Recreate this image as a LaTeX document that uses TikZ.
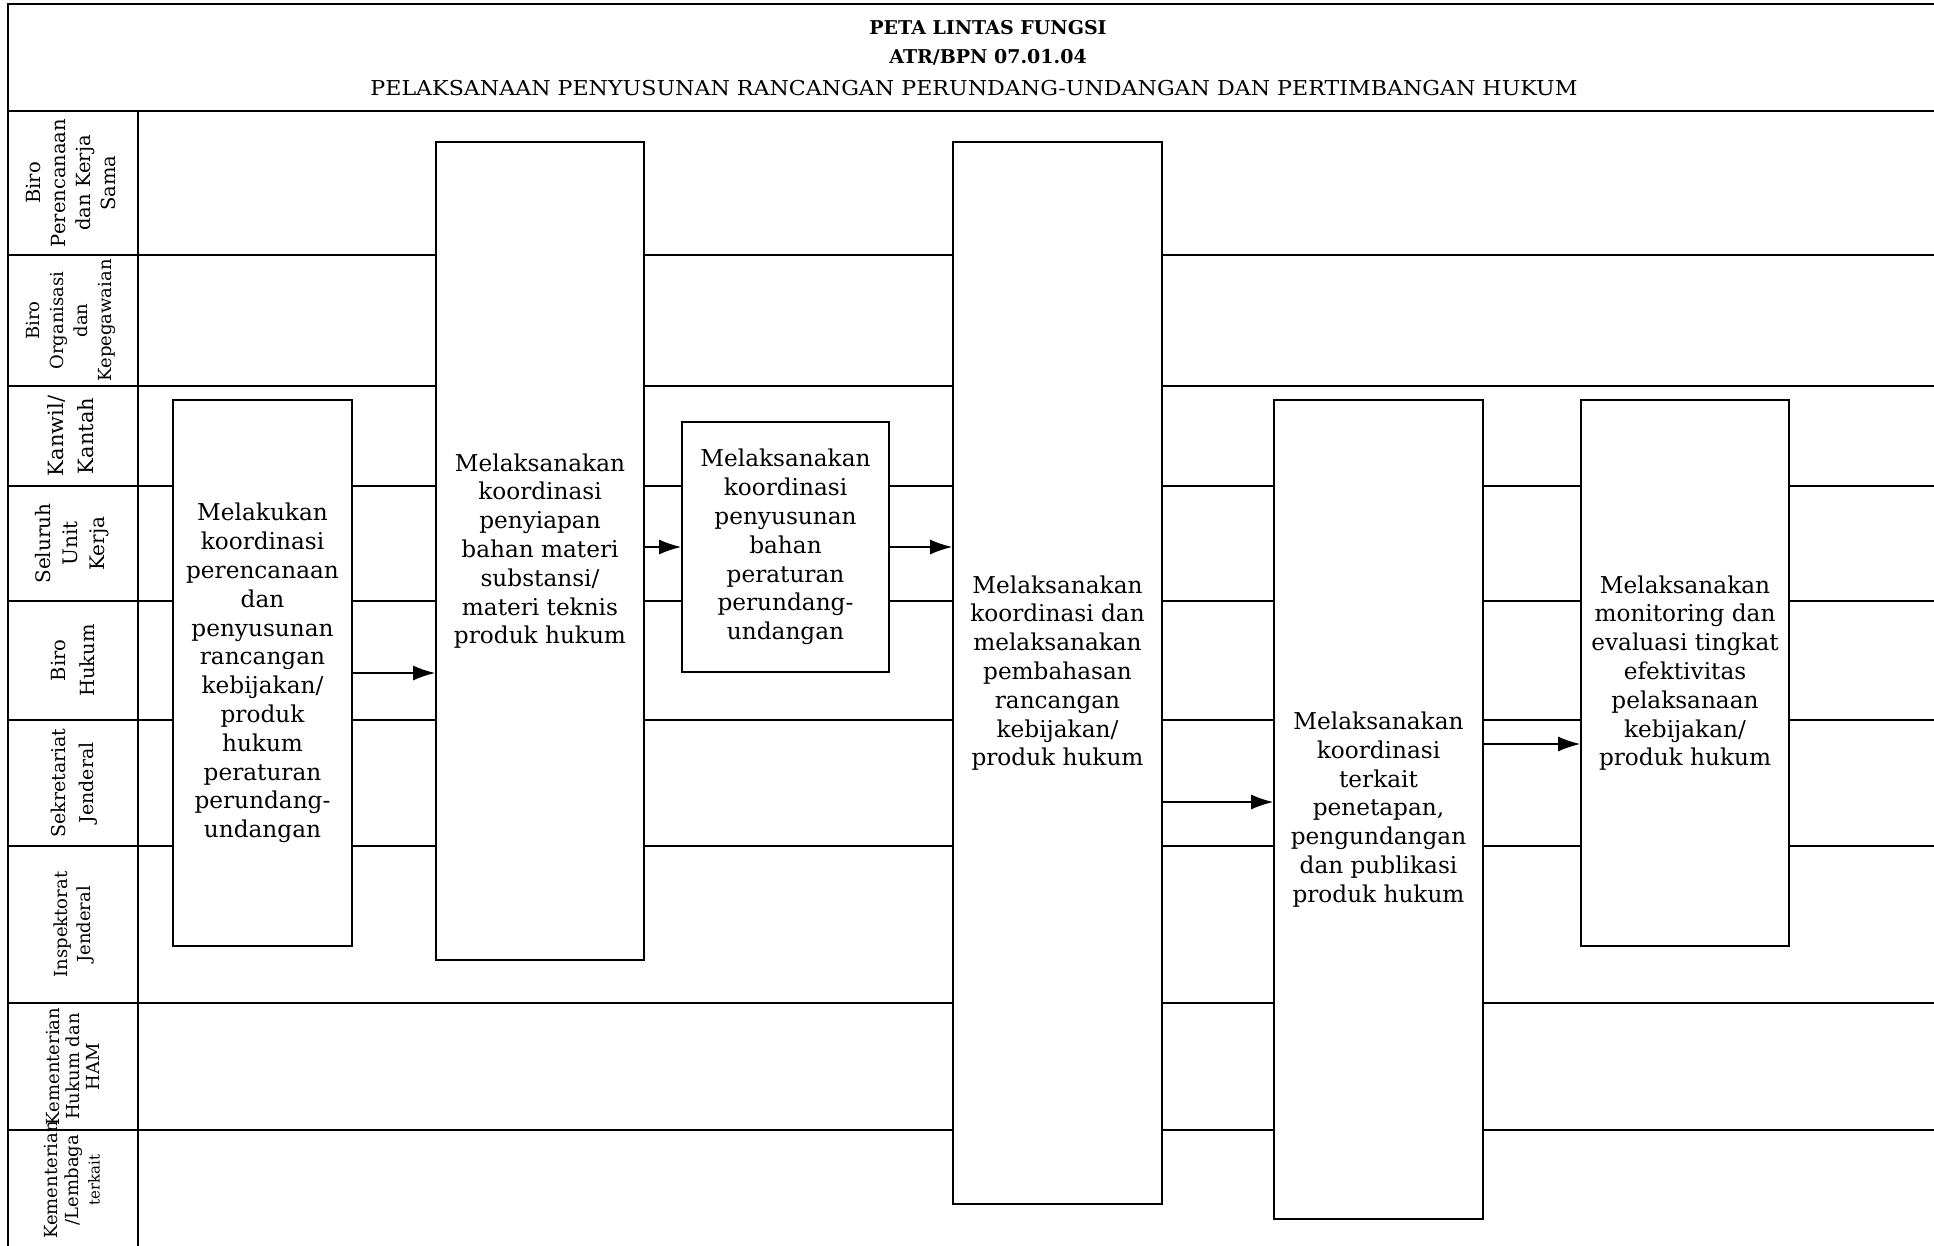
\documentclass[tikz,border=0pt]{standalone}
\usepackage{fontspec}
\setmainfont{DejaVu Serif}
\newfontfamily\subtitlefont[FakeStretch=1.08]{DejaVu Serif}
\usetikzlibrary{arrows.meta}
\begin{document}
\begin{tikzpicture}[x=1pt,y=-1pt,
  rule/.style={line width=1.6pt},
  stepbox/.style={draw, line width=1.6pt, fill=white, inner sep=0pt, align=center,
    font=\fontsize{23.2}{28.8}\selectfont},
  lanelabel/.style={rotate=90, align=center, inner sep=0pt},
  flow/.style={line width=1.6pt, -{Latex[length=22pt,width=15pt]}}]
\useasboundingbox (0,0) rectangle (1934,1246);
\clip (0,0) rectangle (1934,1246);

% frame, title band and lane grid
\draw[rule] (8,1250) -- (8,4) -- (1940,4);
\draw[rule] (8,111) -- (1940,111);
\draw[rule] (138,111) -- (138,1250);
\foreach \y in {255,386,486,601,720,846,1003,1130}
  \draw[rule] (8,\y) -- (1940,\y);

% title
\node[font=\bfseries\fontsize{19}{21}\selectfont] (t1) at (988,28) {PETA LINTAS FUNGSI};
\node[font=\bfseries\fontsize{19}{21}\selectfont] (t2) at (988,57) {ATR/BPN 07.01.04};
\node[font=\subtitlefont\fontsize{20.5}{23}\selectfont] (t3) at (974,88)
  {PELAKSANAAN PENYUSUNAN RANCANGAN PERUNDANG-UNDANGAN DAN PERTIMBANGAN HUKUM};

% lane labels
\node[lanelabel, font=\fontsize{19.5}{25}\selectfont] (l1) at (71,183) {Biro\\Perencanaan\\dan Kerja\\Sama};
\node[lanelabel, font=\fontsize{18}{24}\selectfont] (l2) at (71,320.5) {Biro\\Organisasi\\dan\\Kepegawaian};
\node[lanelabel, font=\fontsize{21}{30}\selectfont] (l3) at (71,436) {Kanwil/\\Kantah};
\node[lanelabel, font=\fontsize{20}{27}\selectfont] (l4) at (72,543.5) {Seluruh\\Unit\\Kerja};
\node[lanelabel, font=\fontsize{19.5}{29}\selectfont] (l5) at (73,660.5) {Biro\\Hukum};
\node[lanelabel, font=\fontsize{19}{28}\selectfont] (l6) at (74,783) {Sekretariat\\Jenderal};
\node[lanelabel, font=\fontsize{18}{23}\selectfont] (l7) at (74,924.5) {Inspektorat\\Jenderal};
\node[lanelabel, font=\fontsize{18}{20}\selectfont] (l8) at (73,1066.5) {Kementerian\\Hukum dan\\HAM};
\node[lanelabel, font=\fontsize{18}{21}\selectfont] (l9) at (72,1180)
  {Kementerian\\/Lembaga\\{\fontsize{15}{21}\selectfont terkait}};

% process steps
\node[stepbox, minimum width=179, minimum height=546] (b1) at (262.5,673)
  {Melakukan\\koordinasi\\perencanaan\\dan\\penyusunan\\rancangan\\kebijakan/\\produk\\hukum\\peraturan\\perundang-\\undangan};
\node[stepbox, minimum width=208, minimum height=818] (b2) at (540,551)
  {Melaksanakan\\koordinasi\\penyiapan\\bahan materi\\substansi/\\materi teknis\\produk hukum};
\node[stepbox, minimum width=207, minimum height=250] (b3) at (785.5,547)
  {Melaksanakan\\koordinasi\\penyusunan\\bahan\\peraturan\\perundang-\\undangan};
\node[stepbox, minimum width=209, minimum height=1062] (b4) at (1057.5,673)
  {Melaksanakan\\koordinasi dan\\melaksanakan\\pembahasan\\rancangan\\kebijakan/\\produk hukum};
\node[stepbox, minimum width=209, minimum height=819] (b5) at (1378.5,809.5)
  {Melaksanakan\\koordinasi\\terkait\\penetapan,\\pengundangan\\dan publikasi\\produk hukum};
\node[stepbox, minimum width=208, minimum height=546] (b6) at (1685,673)
  {Melaksanakan\\monitoring dan\\evaluasi tingkat\\efektivitas\\pelaksanaan\\kebijakan/\\produk hukum};

% connectors
\draw[flow] (b1.east |- 0,673) -- (b2.west |- 0,673);
\draw[flow] (b2.east |- 0,547) -- (b3.west |- 0,547);
\draw[flow] (b3.east |- 0,547) -- (b4.west |- 0,547);
\draw[flow] (b4.east |- 0,802) -- (b5.west |- 0,802);
\draw[flow] (b5.east |- 0,744) -- (b6.west |- 0,744);
\end{tikzpicture}
\end{document}
